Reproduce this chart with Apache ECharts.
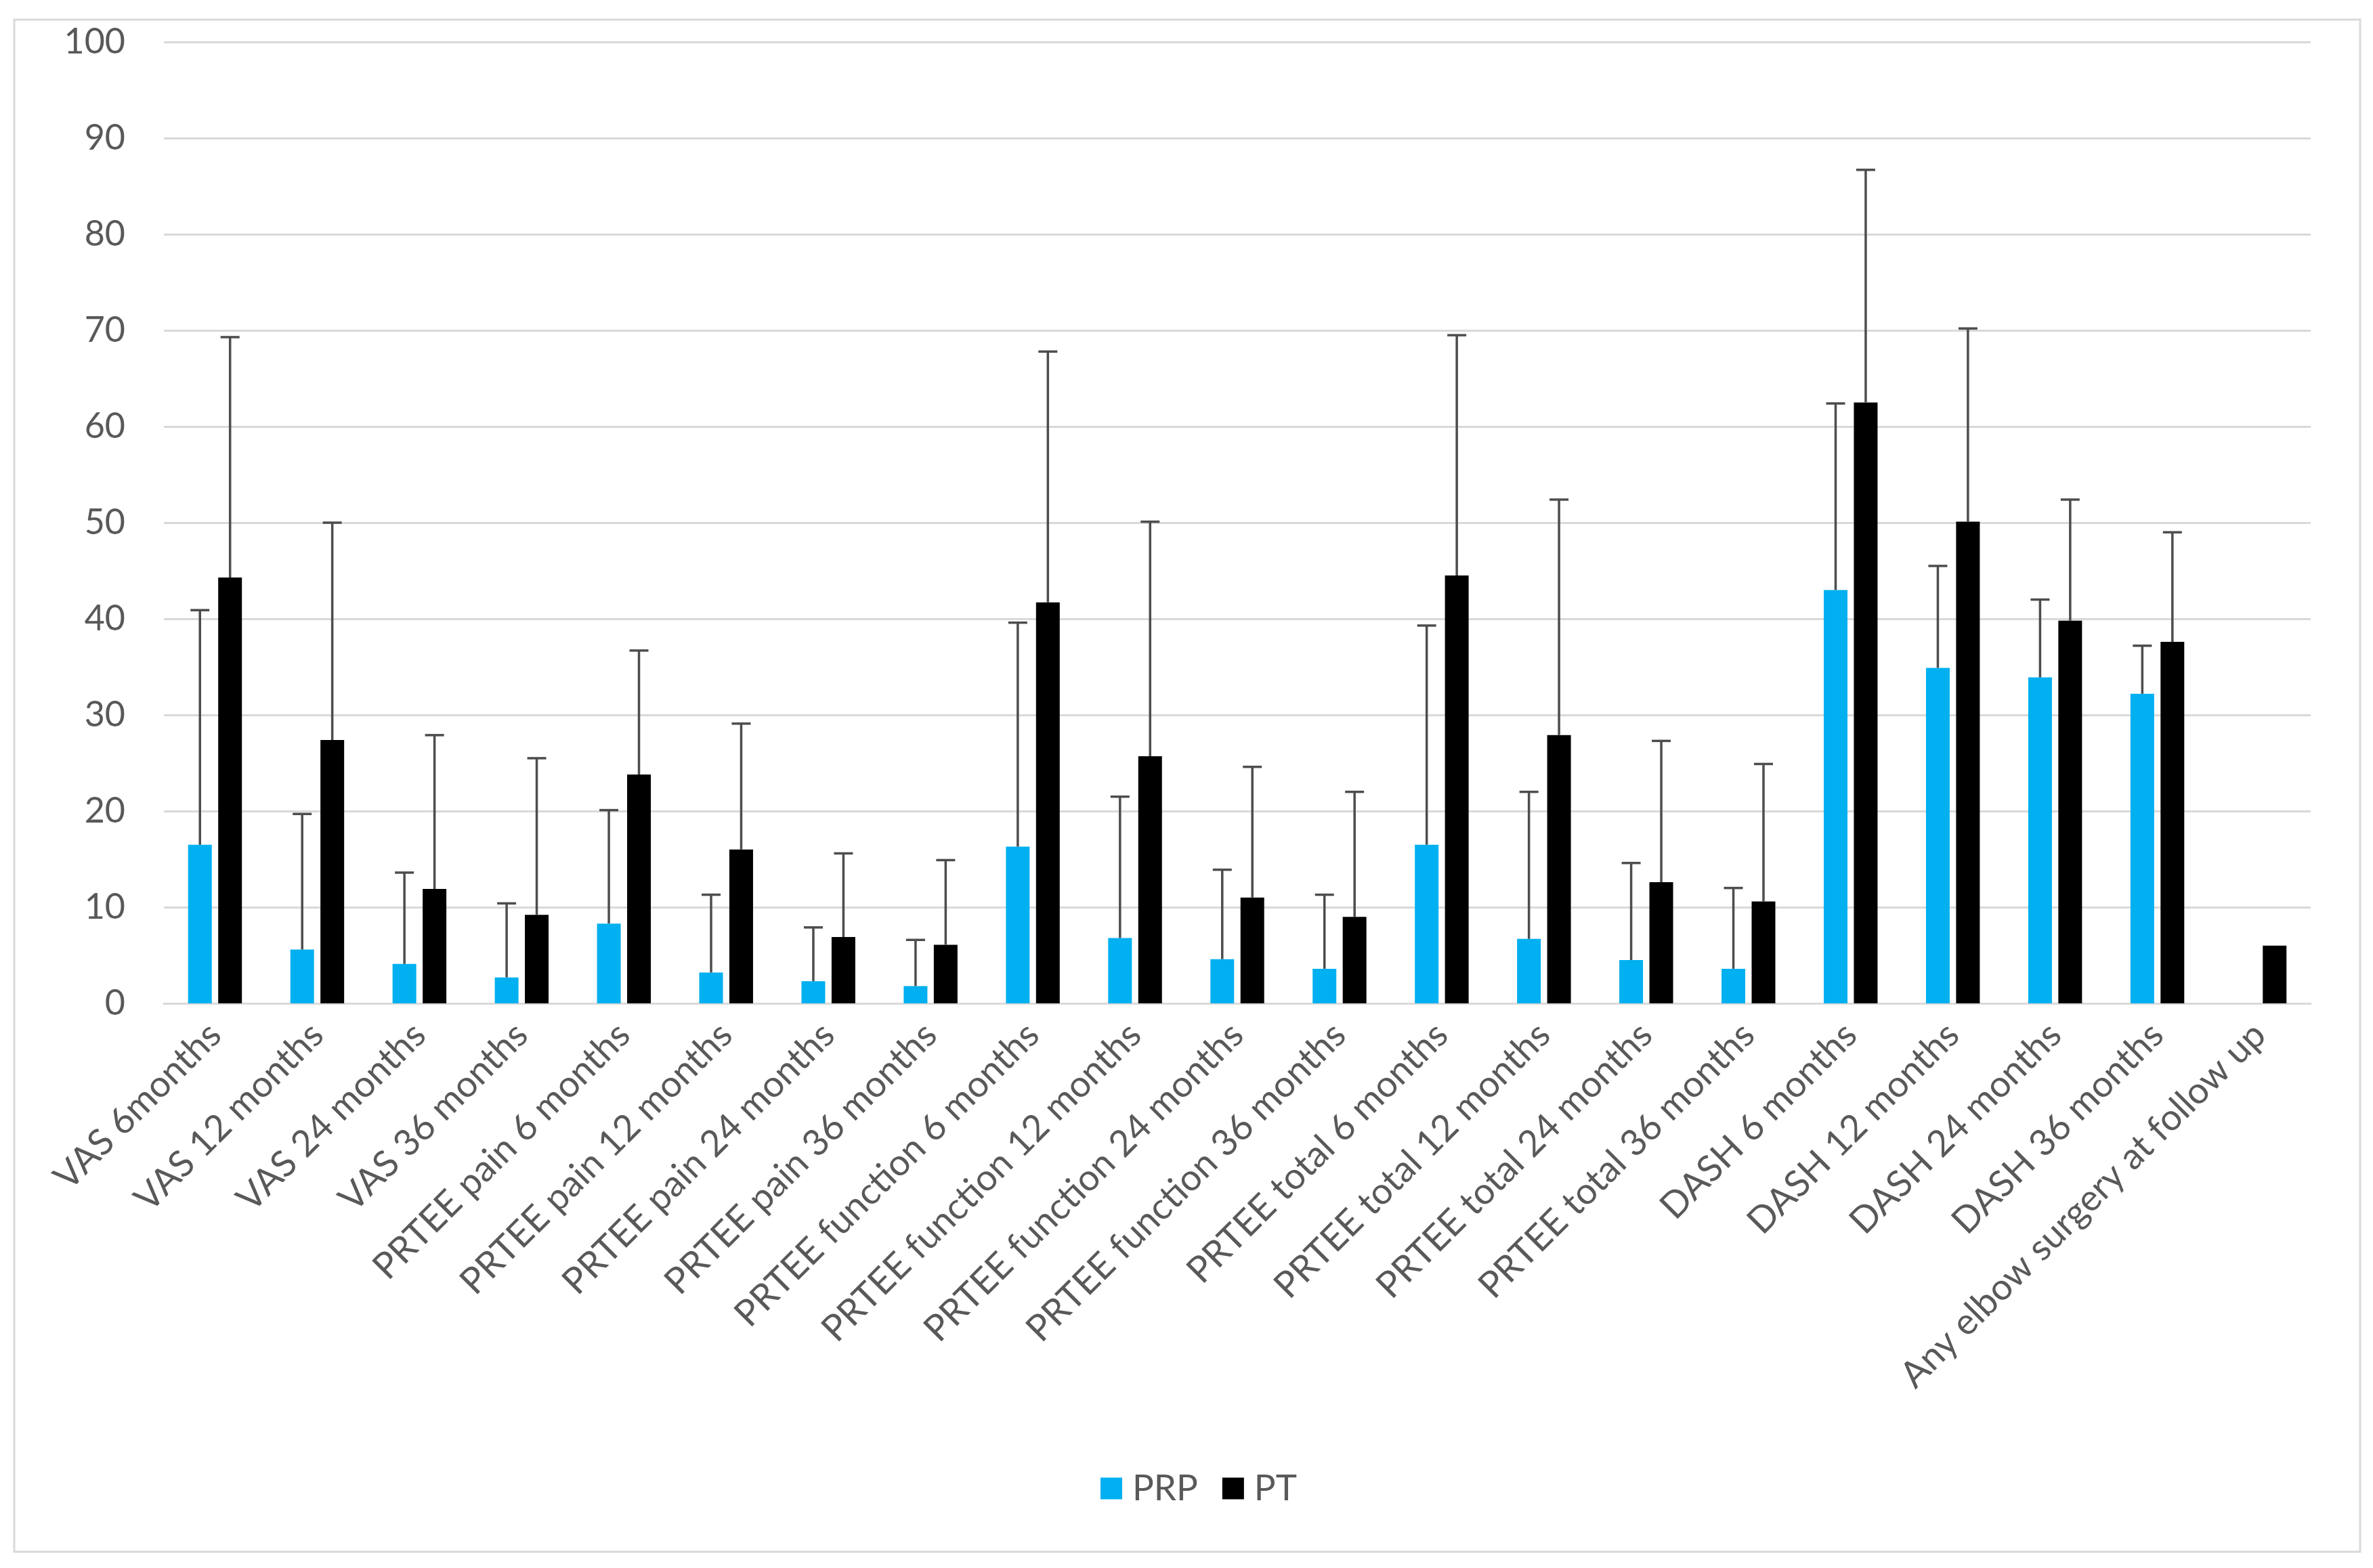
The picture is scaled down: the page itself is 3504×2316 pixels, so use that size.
<!DOCTYPE html>
<html>
<head>
<meta charset="utf-8">
<script src="https://cdn.jsdelivr.net/npm/echarts@6/dist/echarts.min.js"></script>
<style>
html,body{margin:0;padding:0;background:#fff;}
#chart{width:3504px;height:2316px;}
</style>
</head>
<body>
<div id="chart"></div>
<script>
const categories = [
  "VAS 6months","VAS 12 months","VAS 24 months","VAS 36 months",
  "PRTEE pain 6 months","PRTEE pain 12 months","PRTEE pain 24 months","PRTEE pain 36 months",
  "PRTEE function 6 months","PRTEE function 12 months","PRTEE function 24 months","PRTEE function 36 months",
  "PRTEE total 6 months","PRTEE total 12 months","PRTEE total 24 months","PRTEE total 36 months",
  "DASH 6 months","DASH 12 months","DASH 24 months","DASH 36 months",
  "Any elbow surgery at follow up"
];
const prpMean  = [16.5, 5.6, 4.1, 2.7, 8.3, 3.2, 2.3, 1.8, 16.3, 6.8, 4.6, 3.6, 16.5, 6.7, 4.5, 3.6, 43.0, 34.9, 33.9, 32.2, null];
const prpUpper = [40.9, 19.7, 13.6, 10.4, 20.1, 11.3, 7.9, 6.6, 39.6, 21.5, 13.9, 11.3, 39.3, 22.0, 14.6, 12.0, 62.4, 45.5, 42.0, 37.2, null];
const ptMean   = [44.3, 27.4, 11.9, 9.2, 23.8, 16.0, 6.9, 6.1, 41.7, 25.7, 11.0, 9.0, 44.5, 27.9, 12.6, 10.6, 62.5, 50.1, 39.8, 37.6, 6.0];
const ptUpper  = [69.3, 50.0, 27.9, 25.5, 36.7, 29.1, 15.6, 14.9, 67.8, 50.1, 24.6, 22.0, 69.5, 52.4, 27.3, 24.9, 86.7, 70.2, 52.4, 49.0, null];
const yTicks = [0, 10, 20, 30, 40, 50, 60, 70, 80, 90, 100];
const seriesNames = ["PRP", "PT"];

const FONT = "Lato";
const TEXT = "#595959";
const BAR_W = 35;
const GAP_RATIO = 0.27;
const OFFSET = BAR_W * (1 + GAP_RATIO) / 2;

function errData(means, uppers) {
  const out = [];
  for (let i = 0; i < categories.length; i++) {
    if (means[i] != null && uppers[i] != null) out.push([i, means[i], uppers[i]]);
  }
  return out;
}
function errRender(sign) {
  return function (params, api) {
    const xi = api.value(0);
    const base = api.coord([xi, api.value(1)]);
    const top = api.coord([xi, api.value(2)]);
    const x = base[0] + sign * OFFSET;
    const st = { stroke: "#4d4d4d", lineWidth: 3.5 };
    return {
      type: "group",
      children: [
        { type: "line", shape: { x1: x, y1: base[1], x2: x, y2: top[1] }, style: st },
        { type: "line", shape: { x1: x - 14, y1: top[1], x2: x + 14, y2: top[1] }, style: st }
      ]
    };
  };
}

const chart = echarts.init(document.getElementById("chart"), null, { renderer: "canvas" });
chart.setOption({
  animation: false,
  backgroundColor: "#ffffff",
  textStyle: { fontFamily: FONT },
  graphic: [{
    type: "rect",
    shape: { x: 21, y: 29, width: 3464, height: 2263 },
    style: { fill: "none", stroke: "#d9d9d9", lineWidth: 3 },
    silent: true
  }],
  grid: { left: 242, right: 92, top: 62, bottom: 834, containLabel: false },
  legend: {
    data: seriesNames,
    top: 2167,
    left: 1620,
    itemWidth: 32,
    itemHeight: 32,
    itemGap: 36,
    icon: "rect",
    textStyle: { fontFamily: FONT, fontSize: 53, color: TEXT, padding: [0, 0, 0, 10] }
  },
  xAxis: {
    type: "category",
    data: categories,
    axisLine: { show: true, lineStyle: { color: "#d9d9d9", width: 3 } },
    axisTick: { show: false },
    axisLabel: {
      rotate: 45,
      interval: 0,
      margin: 38,
      fontFamily: FONT,
      fontSize: 54,
      color: TEXT
    }
  },
  yAxis: {
    type: "value",
    min: yTicks[0],
    max: yTicks[yTicks.length - 1],
    interval: 10,
    axisLine: { show: false },
    axisTick: { show: false },
    splitLine: { lineStyle: { color: "#d9d9d9", width: 3 } },
    axisLabel: { margin: 57, fontFamily: FONT, fontSize: 52, color: TEXT }
  },
  series: [
    {
      name: seriesNames[0], type: "bar", data: prpMean,
      barWidth: BAR_W, barGap: (GAP_RATIO * 100) + "%",
      itemStyle: { color: "#00b0f0" }
    },
    {
      name: seriesNames[1], type: "bar", data: ptMean,
      barWidth: BAR_W, barGap: (GAP_RATIO * 100) + "%",
      itemStyle: { color: "#000000" }
    },
    {
      name: "PRP error", type: "custom", renderItem: errRender(-1),
      data: errData(prpMean, prpUpper), z: 5, silent: true
    },
    {
      name: "PT error", type: "custom", renderItem: errRender(1),
      data: errData(ptMean, ptUpper), z: 5, silent: true
    }
  ]
});
</script>
</body>
</html>
